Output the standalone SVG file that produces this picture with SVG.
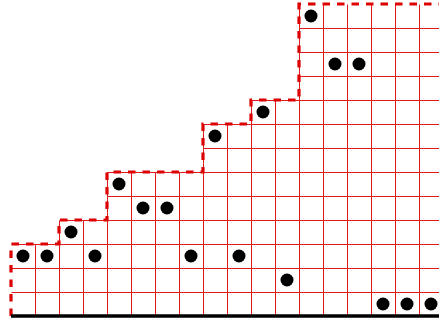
<svg xmlns="http://www.w3.org/2000/svg" width="439" height="322" viewBox="0 0 439 322">
<style>
.g{stroke:#e31a1a;stroke-width:1;fill:none}
.o{stroke:#dd0000;stroke-width:3.2;fill:none;stroke-dasharray:7.5 7}
.b{stroke:#000;stroke-width:3.5}
.d{fill:#000}
</style>
<rect width="439" height="322" fill="#fff"/>
<g id="grid" class="g" transform="translate(0.5 0.5)">
<path d="M11 292H439M11 268H439M11 244H439M59 220H439M107 196H439M107 172H439M203 148H439M203 124H439M251 100H439M299 76H439M299 52H439M299 28H439"/>
<path d="M35 244V316M59 220V316M83 220V316M107 172V316M131 172V316M155 172V316M179 172V316M203 124V316M227 124V316M251 100V316M275 100V316M299 4V316M323 4V316M347 4V316M371 4V316M395 4V316M419 4V316"/>
</g>
<g id="outline">
<path class="o" d="M11 316V244H59V220H107V172H203V124H251V100H299V4H439"/>
</g>
<g id="baseline">
<line class="b" x1="11" y1="316" x2="439" y2="316"/>
</g>
<g id="dots" class="d">
<circle cx="23" cy="256" r="6.5"/>
<circle cx="47" cy="256" r="6.5"/>
<circle cx="71" cy="232" r="6.5"/>
<circle cx="95" cy="256" r="6.5"/>
<circle cx="119" cy="184" r="6.5"/>
<circle cx="143" cy="208" r="6.5"/>
<circle cx="167" cy="208" r="6.5"/>
<circle cx="191" cy="256" r="6.5"/>
<circle cx="215" cy="136" r="6.5"/>
<circle cx="239" cy="256" r="6.5"/>
<circle cx="263" cy="112" r="6.5"/>
<circle cx="287" cy="280" r="6.5"/>
<circle cx="311" cy="16" r="6.5"/>
<circle cx="335" cy="64" r="6.5"/>
<circle cx="359" cy="64" r="6.5"/>
<circle cx="383" cy="304" r="6.5"/>
<circle cx="407" cy="304" r="6.5"/>
<circle cx="431" cy="304" r="6.5"/>
</g>
</svg>
